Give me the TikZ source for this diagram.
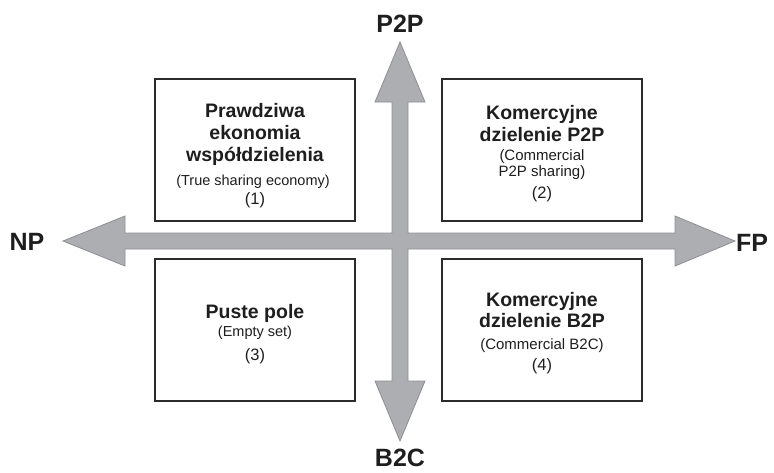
\documentclass[tikz,border=0pt]{standalone}
\usepackage{fontspec}
\setmainfont{Liberation Sans}
\definecolor{arrfill}{HTML}{ADAEB2}
\definecolor{arrline}{HTML}{8E8F92}
\definecolor{boxline}{HTML}{2B2B2B}
\definecolor{txt}{HTML}{1E1E1E}
\begin{document}
\begin{tikzpicture}[x=1pt,y=-1pt,
  quad/.style={draw=boxline, line width=1.6pt, fill=white, minimum width=200pt, minimum height=142pt, inner sep=0pt},
  ttl/.style={anchor=base, inner sep=0pt, text=txt, font=\bfseries\fontsize{19.5}{22}\selectfont},
  subt/.style={anchor=base, inner sep=0pt, text=txt, font=\fontsize{14.5}{16}\selectfont},
  num/.style={anchor=base, inner sep=0pt, text=txt, font=\fontsize{16.5}{18}\selectfont},
  axl/.style={inner sep=0pt, text=txt, font=\bfseries\fontsize{25}{28}\selectfont},
  cross/.style={fill=arrfill, draw=arrline, line width=0.8pt, line join=miter}
]
\useasboundingbox (0,0) rectangle (774,472);

% quadrant boxes
\node[quad] (q1) at (255,150) {};
\node[quad] (q2) at (542,150) {};
\node[quad] (q3) at (255,330) {};
\node[quad] (q4) at (542,330) {};

% cross of double-headed arrows
\draw[cross] (400,42) -- (425,102) -- (408,102) -- (408,233) -- (675,233) -- (675,216)
  -- (735,241) -- (675,266) -- (675,249) -- (408,249) -- (408,381) -- (425,381)
  -- (400,441) -- (375,381) -- (392,381) -- (392,249) -- (125,249) -- (125,266)
  -- (63,241) -- (125,216) -- (125,233) -- (392,233) -- (392,102) -- (375,102) -- cycle;

% axis labels
\node[axl] (p2p) at (400,24) {P2P};
\node[axl] (np) at (27,242) {NP};
\node[axl] (fp) at (752,243) {FP};
\node[axl] (b2c) at (400,457.5) {B2C};

% box 1
\node[ttl] (t1a) at (255,117) {Prawdziwa};
\node[ttl] (t1b) at (255,139) {ekonomia};
\node[ttl] (t1c) at (255,161) {współdzielenia};
\node[subt] (s1) at (253,185) {(True sharing economy)};
\node[num] (n1) at (255,204) {(1)};

% box 2
\node[ttl] (t2a) at (542,119) {Komercyjne};
\node[ttl] (t2b) at (542,141) {dzielenie P2P};
\node[subt, font=\fontsize{15}{16}\selectfont] (s2a) at (542,160.5) {(Commercial};
\node[subt, font=\fontsize{15}{16}\selectfont] (s2b) at (542,176) {P2P sharing)};
\node[num] (n2) at (542,198) {(2)};

% box 3
\node[ttl] (t3a) at (255,318) {Puste pole};
\node[subt] (s3) at (255,336) {(Empty set)};
\node[num] (n3) at (255,360) {(3)};

% box 4
\node[ttl] (t4a) at (542,306) {Komercyjne};
\node[ttl] (t4b) at (542,327) {dzielenie B2P};
\node[subt, font=\fontsize{15}{16}\selectfont] (s4) at (542,349.5) {(Commercial B2C)};
\node[num] (n4) at (542,370.5) {(4)};
\end{tikzpicture}
\end{document}
